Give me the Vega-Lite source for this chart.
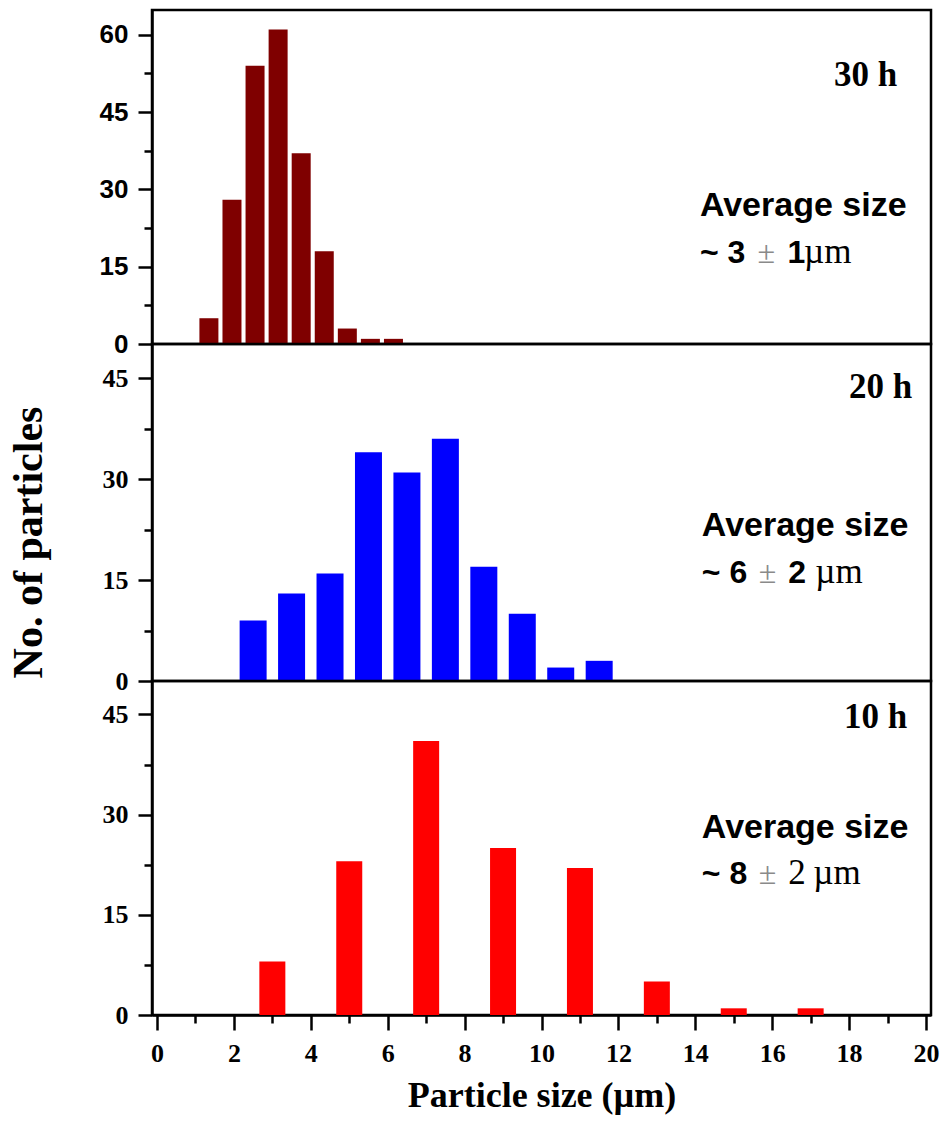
{
  "$schema": "https://vega.github.io/schema/vega-lite/v6.json",
  "background": "white",
  "padding": {"left": 5, "top": 8, "right": 5, "bottom": 5},
  "spacing": 0,
  "bounds": "flush",
  "datasets": {
    "p30": [
      {"size": 1.35, "count": 5}, {"size": 1.95, "count": 28}, {"size": 2.55, "count": 54},
      {"size": 3.15, "count": 61}, {"size": 3.75, "count": 37}, {"size": 4.35, "count": 18},
      {"size": 4.95, "count": 3}, {"size": 5.55, "count": 1}, {"size": 6.15, "count": 1}
    ],
    "p20": [
      {"size": 2.5, "count": 9}, {"size": 3.5, "count": 13}, {"size": 4.5, "count": 16},
      {"size": 5.5, "count": 34}, {"size": 6.5, "count": 31}, {"size": 7.5, "count": 36},
      {"size": 8.5, "count": 17}, {"size": 9.5, "count": 10}, {"size": 10.5, "count": 2},
      {"size": 11.5, "count": 3}
    ],
    "p10": [
      {"size": 3, "count": 8}, {"size": 5, "count": 23}, {"size": 7, "count": 41},
      {"size": 9, "count": 25}, {"size": 11, "count": 22}, {"size": 13, "count": 5},
      {"size": 15, "count": 1}, {"size": 17, "count": 1}
    ],
    "one": [{}]
  },
  "config": {
    "view": {"stroke": "black", "strokeWidth": 2.5},
    "axis": {
      "grid": false, "domainColor": "black", "domainWidth": 2.5,
      "tickColor": "black", "tickWidth": 2.5, "labelColor": "black", "titleColor": "black"
    },
    "text": {"color": "black"}
  },
  "vconcat": [
    {
      "width": 779, "height": 334,
      "resolve": {"axis": {"y": "independent"}},
      "layer": [
        {
          "data": {"name": "p30"},
          "mark": {"type": "bar", "color": "#7f0000", "size": 19},
          "encoding": {
            "x": {"field": "size", "type": "quantitative", "scale": {"domain": [0, 20], "nice": false, "zero": false}, "axis": null},
            "y": {"field": "count", "type": "quantitative", "scale": {"domain": [0, 64.8], "nice": false},
              "axis": {"title": null, "orient": "left", "values": [0, 15, 30, 45, 60], "tickSize": 14,
                "labelFont": "Liberation Sans", "labelFontWeight": "bold", "labelFontSize": 26, "labelPadding": 10}}
          }
        },
        {
          "data": {"name": "p30"},
          "mark": {"type": "bar", "opacity": 0},
          "encoding": {
            "x": {"field": "size", "type": "quantitative", "axis": null},
            "y": {"field": "count", "type": "quantitative",
              "axis": {"title": null, "orient": "left", "values": [7.5, 22.5, 37.5, 52.5], "tickSize": 8, "labels": false, "domain": false}}
          }
        },
        {"data": {"name": "one"}, "mark": {"type": "text", "text": "30 h", "align": "right", "baseline": "alphabetic", "font": "Liberation Serif", "fontWeight": "bold", "fontSize": 35},
          "encoding": {"x": {"datum": 19.25, "axis": null}, "y": {"datum": 50.1, "axis": null}}},
        {"data": {"name": "one"}, "mark": {"type": "text", "text": "Average size", "align": "left", "baseline": "alphabetic", "font": "Liberation Sans", "fontWeight": "bold", "fontSize": 34},
          "encoding": {"x": {"datum": 14.12, "axis": null}, "y": {"datum": 24.9, "axis": null}}},
        {"data": {"name": "one"}, "mark": {"type": "text", "text": "~ 3", "align": "left", "baseline": "alphabetic", "font": "Liberation Sans", "fontWeight": "bold", "fontSize": 32},
          "encoding": {"x": {"datum": 14.12, "axis": null}, "y": {"datum": 15.8, "axis": null}}},
        {"data": {"name": "one"}, "mark": {"type": "text", "text": "±", "align": "left", "baseline": "alphabetic", "font": "Liberation Serif", "fontSize": 32, "color": "#8a8a8a"},
          "encoding": {"x": {"datum": 15.62, "axis": null}, "y": {"datum": 15.8, "axis": null}}},
        {"data": {"name": "one"}, "mark": {"type": "text", "text": "1", "align": "left", "baseline": "alphabetic", "font": "Liberation Sans", "fontWeight": "bold", "fontSize": 32},
          "encoding": {"x": {"datum": 16.4, "axis": null}, "y": {"datum": 15.8, "axis": null}}},
        {"data": {"name": "one"}, "mark": {"type": "text", "text": "µm", "align": "left", "baseline": "alphabetic", "font": "Liberation Serif", "fontSize": 35},
          "encoding": {"x": {"datum": 16.83, "axis": null}, "y": {"datum": 15.8, "axis": null}}}
      ]
    },
    {
      "width": 779, "height": 337,
      "resolve": {"axis": {"y": "independent"}},
      "layer": [
        {
          "data": {"name": "p20"},
          "mark": {"type": "bar", "color": "#0000ff", "size": 27},
          "encoding": {
            "x": {"field": "size", "type": "quantitative", "scale": {"domain": [0, 20], "nice": false, "zero": false}, "axis": null},
            "y": {"field": "count", "type": "quantitative", "scale": {"domain": [0, 50.1], "nice": false},
              "axis": {"title": "No. of particles", "orient": "left", "values": [0, 15, 30, 45], "tickSize": 14,
                "labelFont": "Liberation Serif", "labelFontWeight": "bold", "labelFontSize": 26, "labelPadding": 10,
                "titleFont": "Liberation Serif", "titleFontWeight": "bold", "titleFontSize": 42,
                "titleX": -102, "titleY": 198, "titleBaseline": "bottom", "titleAngle": -90}}
          }
        },
        {
          "data": {"name": "p20"},
          "mark": {"type": "bar", "opacity": 0},
          "encoding": {
            "x": {"field": "size", "type": "quantitative", "axis": null},
            "y": {"field": "count", "type": "quantitative",
              "axis": {"title": null, "orient": "left", "values": [7.5, 22.5, 37.5], "tickSize": 8, "labels": false, "domain": false}}
          }
        },
        {"data": {"name": "one"}, "mark": {"type": "text", "text": "20 h", "align": "right", "baseline": "alphabetic", "font": "Liberation Serif", "fontWeight": "bold", "fontSize": 35},
          "encoding": {"x": {"datum": 19.64, "axis": null}, "y": {"datum": 42.0, "axis": null}}},
        {"data": {"name": "one"}, "mark": {"type": "text", "text": "Average size", "align": "left", "baseline": "alphabetic", "font": "Liberation Sans", "fontWeight": "bold", "fontSize": 34},
          "encoding": {"x": {"datum": 14.17, "axis": null}, "y": {"datum": 21.5, "axis": null}}},
        {"data": {"name": "one"}, "mark": {"type": "text", "text": "~ 6", "align": "left", "baseline": "alphabetic", "font": "Liberation Sans", "fontWeight": "bold", "fontSize": 32},
          "encoding": {"x": {"datum": 14.17, "axis": null}, "y": {"datum": 14.6, "axis": null}}},
        {"data": {"name": "one"}, "mark": {"type": "text", "text": "±", "align": "left", "baseline": "alphabetic", "font": "Liberation Serif", "fontSize": 32, "color": "#8a8a8a"},
          "encoding": {"x": {"datum": 15.65, "axis": null}, "y": {"datum": 14.6, "axis": null}}},
        {"data": {"name": "one"}, "mark": {"type": "text", "text": "2", "align": "left", "baseline": "alphabetic", "font": "Liberation Sans", "fontWeight": "bold", "fontSize": 32},
          "encoding": {"x": {"datum": 16.42, "axis": null}, "y": {"datum": 14.6, "axis": null}}},
        {"data": {"name": "one"}, "mark": {"type": "text", "text": "µm", "align": "left", "baseline": "alphabetic", "font": "Liberation Serif", "fontSize": 35},
          "encoding": {"x": {"datum": 17.12, "axis": null}, "y": {"datum": 14.6, "axis": null}}}
      ]
    },
    {
      "width": 779, "height": 334,
      "resolve": {"axis": {"x": "independent", "y": "independent"}},
      "layer": [
        {
          "data": {"name": "p10"},
          "mark": {"type": "bar", "color": "#ff0000", "size": 26},
          "encoding": {
            "x": {"field": "size", "type": "quantitative", "scale": {"domain": [0, 20], "nice": false, "zero": false},
              "axis": {"title": "Particle size (µm)", "orient": "bottom", "values": [0, 2, 4, 6, 8, 10, 12, 14, 16, 18, 20], "tickSize": 15,
                "labelFont": "Liberation Serif", "labelFontWeight": "bold", "labelFontSize": 26, "labelPadding": 10, "labelAngle": 0,
                "titleFont": "Liberation Serif", "titleFontWeight": "bold", "titleFontSize": 36, "titlePadding": 12}},
            "y": {"field": "count", "type": "quantitative", "scale": {"domain": [0, 50], "nice": false},
              "axis": {"title": null, "orient": "left", "values": [0, 15, 30, 45], "tickSize": 14,
                "labelFont": "Liberation Serif", "labelFontWeight": "bold", "labelFontSize": 26, "labelPadding": 10}}
          }
        },
        {
          "data": {"name": "p10"},
          "mark": {"type": "bar", "opacity": 0},
          "encoding": {
            "x": {"field": "size", "type": "quantitative",
              "axis": {"title": null, "orient": "bottom", "values": [1, 3, 5, 7, 9, 11, 13, 15, 17, 19], "tickSize": 8, "labels": false, "domain": false}},
            "y": {"field": "count", "type": "quantitative",
              "axis": {"title": null, "orient": "left", "values": [7.5, 22.5, 37.5], "tickSize": 8, "labels": false, "domain": false}}
          }
        },
        {"data": {"name": "one"}, "mark": {"type": "text", "text": "10 h", "align": "right", "baseline": "alphabetic", "font": "Liberation Serif", "fontWeight": "bold", "fontSize": 35},
          "encoding": {"x": {"datum": 19.51, "axis": null}, "y": {"datum": 43.0, "axis": null}}},
        {"data": {"name": "one"}, "mark": {"type": "text", "text": "Average size", "align": "left", "baseline": "alphabetic", "font": "Liberation Sans", "fontWeight": "bold", "fontSize": 34},
          "encoding": {"x": {"datum": 14.17, "axis": null}, "y": {"datum": 26.5, "axis": null}}},
        {"data": {"name": "one"}, "mark": {"type": "text", "text": "~ 8", "align": "left", "baseline": "alphabetic", "font": "Liberation Sans", "fontWeight": "bold", "fontSize": 32},
          "encoding": {"x": {"datum": 14.17, "axis": null}, "y": {"datum": 19.6, "axis": null}}},
        {"data": {"name": "one"}, "mark": {"type": "text", "text": "±", "align": "left", "baseline": "alphabetic", "font": "Liberation Serif", "fontSize": 32, "color": "#8a8a8a"},
          "encoding": {"x": {"datum": 15.65, "axis": null}, "y": {"datum": 19.6, "axis": null}}},
        {"data": {"name": "one"}, "mark": {"type": "text", "text": "2", "align": "left", "baseline": "alphabetic", "font": "Liberation Serif", "fontSize": 35},
          "encoding": {"x": {"datum": 16.42, "axis": null}, "y": {"datum": 19.6, "axis": null}}},
        {"data": {"name": "one"}, "mark": {"type": "text", "text": "µm", "align": "left", "baseline": "alphabetic", "font": "Liberation Serif", "fontSize": 35},
          "encoding": {"x": {"datum": 17.07, "axis": null}, "y": {"datum": 19.6, "axis": null}}}
      ]
    }
  ]
}
